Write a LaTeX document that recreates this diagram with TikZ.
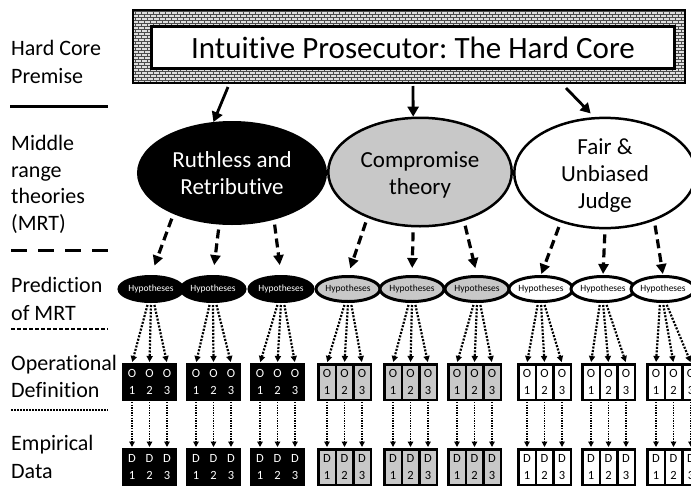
\documentclass[tikz,border=0pt]{standalone}
\usepackage{fontspec}
\setmainfont{Carlito}[Ligatures={NoCommon}]
\frenchspacing
\usetikzlibrary{shapes.geometric,arrows.meta,patterns}
\definecolor{mygrey}{RGB}{200,200,200}

% small brick texture for the hard core frame
\pgfdeclarepatternformonly{tinybricks}{\pgfqpoint{-0.5pt}{-0.5pt}}{\pgfqpoint{6.5pt}{6.5pt}}{\pgfqpoint{6pt}{6pt}}{%
  \pgfsetlinewidth{0.6pt}
  \pgfpathmoveto{\pgfqpoint{0pt}{0pt}}\pgfpathlineto{\pgfqpoint{6pt}{0pt}}
  \pgfpathmoveto{\pgfqpoint{0pt}{3pt}}\pgfpathlineto{\pgfqpoint{6pt}{3pt}}
  \pgfpathmoveto{\pgfqpoint{0pt}{0pt}}\pgfpathlineto{\pgfqpoint{0pt}{3pt}}
  \pgfpathmoveto{\pgfqpoint{3pt}{3pt}}\pgfpathlineto{\pgfqpoint{3pt}{6pt}}
  \pgfusepath{stroke}}

\tikzset{
  % left column labels
  lbl/.style={font=\fontsize{22}{27}\selectfont, inner sep=0pt, anchor=base west},
  % hard core
  hcframe/.style={rectangle, draw, line width=2pt, preaction={fill=gray!25}, pattern=tinybricks, pattern color=black!70, minimum width=552pt, minimum height=73pt},
  hcbox/.style={rectangle, draw, fill=white, line width=3pt, minimum width=523pt, minimum height=42pt, inner sep=0pt, font=\fontsize{31}{36}\selectfont},
  % middle range theories
  mrt/.style={ellipse, draw, line width=2.5pt, inner sep=0pt, align=center, font=\fontsize{23}{27}\selectfont},
  % hypotheses
  hyp/.style={ellipse, draw, line width=3pt, minimum width=54pt, minimum height=25pt, inner sep=0pt, font=\fontsize{9.5}{11}\selectfont},
  % operational definition / data columns
  col/.style={rectangle, draw, line width=2.5pt, minimum width=17.5pt, minimum height=35.5pt, inner sep=0pt, align=center, font=\fontsize{12.5}{17}\selectfont},
  blk/.style={fill=black, text=white},  % black group
  gry/.style={fill=mygrey},             % grey group
  wht/.style={fill=white},              % white group
  % arrows
  hcarrow/.style={-{Triangle[length=10pt,width=11pt]}, line width=2.8pt},
  mrtarrow/.style={-{Triangle[length=10pt,width=10pt]}, line width=3.2pt, dash pattern=on 9pt off 5pt, shorten <=5pt},
  hyparrow/.style={-{Triangle[length=6pt,width=6pt]}, line width=2.2pt, dash pattern=on 2pt off 1.5pt, shorten <=2pt, shorten >=1pt},
  datarrow/.style={-{Triangle[length=5.5pt,width=5.5pt]}, line width=1.3pt, dash pattern=on 1.3pt off 1.3pt, shorten <=1pt, shorten >=1pt}
}

\begin{document}
\begin{tikzpicture}[x=1pt, y=-1pt]
\path[use as bounding box, clip] (0,0) rectangle (691,485);
%%%%%%%%%%%%%%%%%%%%%%%%%%%%%%%%%%%%%%% left column
\foreach \txt/\y [count=\i] in {Hard Core/55, Premise/83, Middle/150, range/177, theories/203, (MRT)/230,
    Prediction/292, of MRT/320, Operational/370, Definition/397, Empirical/450, Data/478}
  \node[lbl] (lbl\i) at (11,\y) {\txt};
\draw[line width=3pt] (10,106) -- (108,106);
\draw[line width=3pt, dash pattern=on 16pt off 11pt] (11,250) -- (108,250);
\draw[line width=2pt, dash pattern=on 4pt off 2pt] (11,329) -- (108,329);
\draw[line width=1.5pt, dash pattern=on 1.5pt off 1.5pt] (11,410) -- (108,410);
%%%%%%%%%%%%%%%%%%%%%%%%%%%%%%%%%%%%%%% hard core
\node[hcframe] (hcf) at (409,46.5) {};
\node[hcbox] (hc) at (413,47.5) {Intuitive Prosecutor: The Hard Core};
%%%%%%%%%%%%%%%%%%%%%%%%%%%%%%%%%%%%%%% theories
\node[mrt, blk, minimum width=187.5pt, minimum height=101.5pt] (th1) at (232,173) {Ruthless and\\Retributive};
\node[mrt, gry, minimum width=183.5pt, minimum height=108.5pt] (th2) at (420,172) {\rule{0pt}{21pt}Compromise\\theory};
\node[mrt, wht, minimum width=181.5pt, minimum height=107.5pt] (th3) at (605,173) {\rule{0pt}{20pt}Fair \&\\Unbiased\\Judge};
\coordinate (s1) at (228,87);
\coordinate (s2) at (413,86);
\coordinate (s3) at (566,88);
\draw[hcarrow] (s1) -- (th1.110);
\draw[hcarrow] (s2) -- (th2.97);
\draw[hcarrow, shorten >=5pt] (s3) -- (th3.101);
%%%%%%%%%%%%%%%%%%%%%%%%%%%%%%%%%%%%%%% hypotheses
\foreach \x/\i/\s in {151/1/blk, 213/2/blk, 281/3/blk, 348/4/gry, 412/5/gry, 477/6/gry, 541/7/wht, 603/8/wht, 663/9/wht}
  \node[hyp, \s] (h\i) at (\x,289) {Hypotheses};
\foreach \a/\i in {215/1, 256/2, 312/3}
  \draw[mrtarrow, shorten >=10pt] (th1.\a) -- (h\i.north);
\foreach \a/\i in {221/4, 263/5, 312/6}
  \draw[mrtarrow, shorten >=7pt] (th2.\a) -- (h\i.north);
\foreach \a/\i in {228/7, 270/8, 316/9}
  \draw[mrtarrow, shorten >=1pt] (th3.\a) -- (h\i.north);
%%%%%%%%%%%%%%%%%%%%%%%%%%%%%%%%%%%%%%% operational definitions and data
\foreach \L/\b/\s in {122/1/blk, 186/2/blk, 250/3/blk, 317/4/gry, 383/5/gry, 447/6/gry, 517/7/wht, 581/8/wht, 646/9/wht} {
  \foreach \j in {1,2,3} {
    \node[col, \s] (o\b-\j) at ({\L+17.5*\j-7.5},382) {O\\\j};
    \node[col, \s] (d\b-\j) at ({\L+17.5*\j-7.5},467) {D\\\j};
    \draw[datarrow] (o\b-\j.south) -- (d\b-\j.north);
  }
  \draw[hyparrow] ([xshift=-3pt]h\b.south) -- (o\b-1.north);
  \draw[hyparrow] (h\b.south) -- (o\b-2.north);
  \draw[hyparrow] ([xshift=3pt]h\b.south) -- (o\b-3.north);
}
\end{tikzpicture}
\end{document}
